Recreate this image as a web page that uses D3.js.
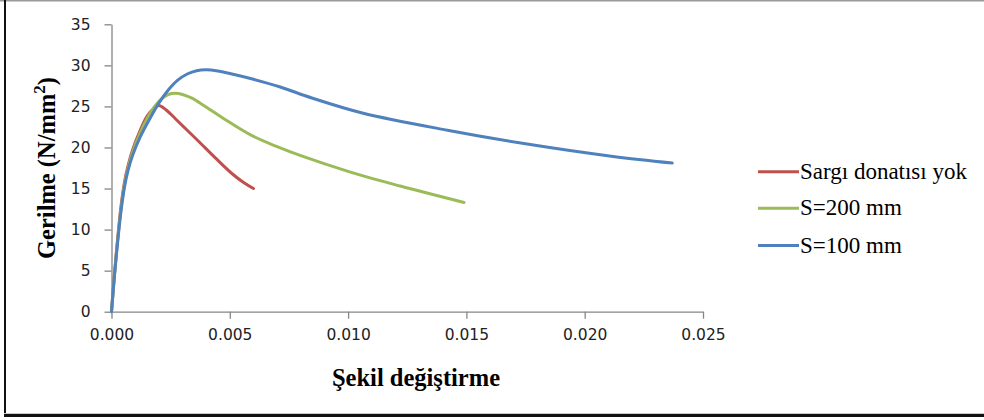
<!DOCTYPE html>
<html>
<head>
<meta charset="utf-8">
<script src="https://cdn.jsdelivr.net/npm/d3@7"></script>
<style>
  html, body { margin: 0; padding: 0; background: #fff; }
  svg { display: block; }
</style>
</head>
<body>
<svg id="chart" width="984" height="420"></svg>
<script>
// Stress–strain curves (strain, stress in N/mm²)
const seriesNames = ["Sargı donatısı yok", "S=200 mm", "S=100 mm"];
const seriesColors = ["#C0504D", "#9BBB59", "#4F81BD"];

const noConfinement = [
  [0, 0], [0.00012, 4.4], [0.00025, 8.6], [0.0004, 12.8], [0.00055, 15.8],
  [0.0007, 17.8], [0.0009, 19.8], [0.0012, 22.0], [0.0015, 23.8],
  [0.0018, 24.8], [0.002, 25.1], [0.0023, 24.6], [0.0027, 23.5],
  [0.0032, 22.1], [0.0037, 20.7], [0.0044, 18.7], [0.0051, 16.8],
  [0.0056, 15.7], [0.006, 15.0]
];
const spacing200 = [
  [0, 0], [0.00012, 4.3], [0.00025, 8.4], [0.0004, 12.5], [0.00055, 15.5],
  [0.0007, 17.5], [0.0009, 19.5], [0.0012, 21.7], [0.0015, 23.5],
  [0.0018, 24.9], [0.0021, 25.9], [0.0024, 26.45], [0.0027, 26.6],
  [0.003, 26.45], [0.0034, 26.0], [0.0039, 25.1], [0.0047, 23.6],
  [0.0059, 21.5], [0.007, 20.1], [0.008, 19.0], [0.0101, 17.0],
  [0.0122, 15.3], [0.0149, 13.3]
];
const spacing100 = [
  [0, 0], [0.00012, 4.2], [0.00025, 8.2], [0.0004, 12.2], [0.00055, 15.2],
  [0.0007, 17.2], [0.0009, 19.1], [0.0012, 21.2], [0.0016, 23.4],
  [0.002, 25.4], [0.0024, 27.0], [0.0028, 28.2], [0.0032, 28.95],
  [0.0036, 29.35], [0.004, 29.45], [0.0045, 29.3], [0.005, 29.0],
  [0.006, 28.3], [0.0071, 27.4], [0.0085, 26.0], [0.0106, 24.2],
  [0.0142, 22.1], [0.0177, 20.35], [0.0212, 18.9], [0.0237, 18.1]
];
const seriesData = [noConfinement, spacing200, spacing100];

const xTicks = [0, 0.005, 0.01, 0.015, 0.02, 0.025];
const yTicks = [0, 5, 10, 15, 20, 25, 30, 35];

const svg = d3.select("#chart");
const W = 984;

// frame around the chart
svg.append("line").attr("x1", 0).attr("x2", W).attr("y1", 0.5).attr("y2", 0.5)
  .attr("stroke", "#9a9a9a").attr("stroke-width", 2);
svg.append("line").attr("x1", 5).attr("x2", 5).attr("y1", 0).attr("y2", 417)
  .attr("stroke", "#111").attr("stroke-width", 2);
svg.append("line").attr("x1", 4).attr("x2", W).attr("y1", 413.5).attr("y2", 413.5)
  .attr("stroke", "#c8c8c8").attr("stroke-width", 1);
svg.append("line").attr("x1", 4).attr("x2", W).attr("y1", 415.5).attr("y2", 415.5)
  .attr("stroke", "#111").attr("stroke-width", 3);

const x = d3.scaleLinear().domain([0, 0.025]).range([111.5, 703]);
const y = d3.scaleLinear().domain([0, 35]).range([311.7, 24.3]);

const axisColor = "#868686";
const tickFont = "'DejaVu Sans', Verdana, sans-serif";

// x axis
const gx = svg.append("g").attr("transform", `translate(0,${y(0)})`)
  .call(d3.axisBottom(x).tickValues(xTicks).tickFormat(d3.format(".3f"))
    .tickSizeInner(7).tickSizeOuter(0).tickPadding(10));
gx.select(".domain").attr("stroke", axisColor).attr("stroke-width", 1.3);
gx.selectAll(".tick line").attr("stroke", axisColor).attr("stroke-width", 1.3);
gx.selectAll(".tick text").attr("fill", "#222").style("font-family", tickFont)
  .style("font-size", "15.5px");

// y axis
const gy = svg.append("g").attr("transform", `translate(${x(0)},0)`)
  .call(d3.axisLeft(y).tickValues(yTicks).tickFormat(d3.format("d"))
    .tickSizeInner(7).tickSizeOuter(0).tickPadding(14));
gy.select(".domain").attr("stroke", axisColor).attr("stroke-width", 1.3);
gy.selectAll(".tick line").attr("stroke", axisColor).attr("stroke-width", 1.3);
gy.selectAll(".tick text").attr("fill", "#222").style("font-family", tickFont)
  .style("font-size", "15.5px");

// curves
const line = d3.line().x(d => x(d[0])).y(d => y(d[1]))
  .curve(d3.curveCatmullRom.alpha(0.5));
svg.append("g").selectAll("path").data(seriesData).join("path")
  .attr("d", line)
  .attr("fill", "none")
  .attr("stroke", (d, i) => seriesColors[i])
  .attr("stroke-width", 3)
  .attr("stroke-linejoin", "round")
  .attr("stroke-linecap", "round");

// axis titles
const titleFont = "'Liberation Serif', 'Times New Roman', serif";
svg.append("text").attr("x", 416).attr("y", 386).attr("text-anchor", "middle")
  .style("font-family", titleFont).style("font-weight", "bold").style("font-size", "24.5px")
  .attr("fill", "#000").text("Şekil değiştirme");

const yt = svg.append("text").attr("transform", "translate(55,168) rotate(-90)")
  .attr("text-anchor", "middle")
  .style("font-family", titleFont).style("font-weight", "bold").style("font-size", "24.5px")
  .attr("fill", "#000");
yt.append("tspan").text("Gerilme (N/mm");
yt.append("tspan").attr("dy", -10).style("font-size", "17px").text("2");
yt.append("tspan").attr("dy", 10).text(")");

// legend
const legend = svg.append("g");
const legY = [171.7, 208.3, 245.5];
seriesNames.forEach((name, i) => {
  legend.append("line").attr("x1", 758).attr("x2", 799)
    .attr("y1", legY[i]).attr("y2", legY[i])
    .attr("stroke", seriesColors[i]).attr("stroke-width", 3);
  legend.append("text").attr("x", 800).attr("y", legY[i] + 7)
    .style("font-family", titleFont).style("font-size", "23px")
    .attr("fill", "#000").text(name);
});
</script>
</body>
</html>
